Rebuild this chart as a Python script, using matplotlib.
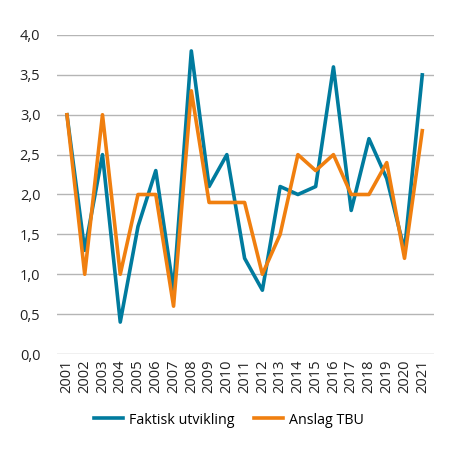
import matplotlib.pyplot as plt
import matplotlib.ticker as mticker

years = list(range(2001, 2022))
faktisk = [3.0, 1.3, 2.5, 0.4, 1.6, 2.3, 0.8, 3.8, 2.1, 2.5, 1.2,
           0.8, 2.1, 2.0, 2.1, 3.6, 1.8, 2.7, 2.2, 1.3, 3.5]
anslag = [3.0, 1.0, 3.0, 1.0, 2.0, 2.0, 0.6, 3.3, 1.9, 1.9, 1.9,
          1.0, 1.5, 2.5, 2.3, 2.5, 2.0, 2.0, 2.4, 1.2, 2.8]

plt.rcParams['font.family'] = ['Open Sans', 'DejaVu Sans']

fig = plt.figure(figsize=(4.6, 4.54), dpi=100)
ax = fig.add_axes([57 / 460, 1 - 354 / 454, (434 - 57) / 460, (354 - 35) / 454])

ax.plot(years, faktisk, color='#007b9e', lw=2.6, label='Faktisk utvikling', zorder=3)
ax.plot(years, anslag, color='#f07f0f', lw=2.6, label='Anslag TBU', zorder=3)

ax.set_ylim(0, 4.0)
ax.set_xlim(2000.44, 2021.66)
ax.yaxis.set_major_locator(mticker.MultipleLocator(0.5))
ax.yaxis.set_major_formatter(mticker.FuncFormatter(lambda v, p: f"{v:.1f}".replace('.', ',')))
ax.set_xticks(years)
ax.set_xticklabels([str(y) for y in years], rotation=90)
ax.grid(axis='y', color='#b5b5b5', lw=1)
ax.set_axisbelow(True)
for s in ax.spines.values():
    s.set_visible(False)
ax.tick_params(length=0, labelsize=10.5, colors='#222222')
ax.tick_params(axis='y', pad=12)
ax.tick_params(axis='x', pad=4)

fig.legend(loc='center', bbox_to_anchor=(0.497, 1 - 420 / 454), ncol=2, frameon=False,
           fontsize=10.3, handlelength=2.05, columnspacing=1.35, handletextpad=0.4)

fig.savefig('out.png', dpi=100)
